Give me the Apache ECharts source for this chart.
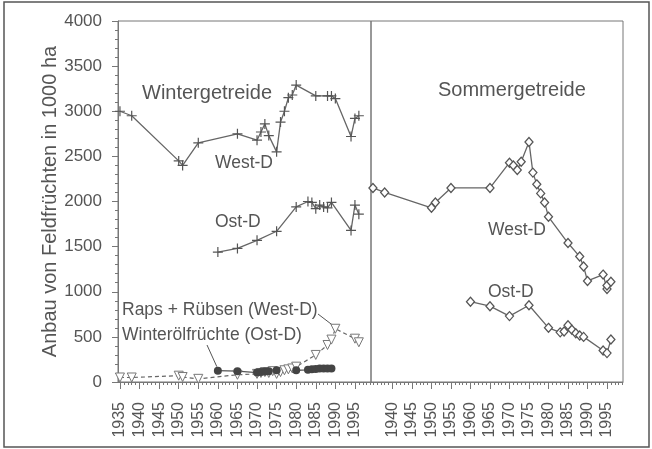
<!DOCTYPE html>
<html>
<head>
<meta charset="utf-8">
<script src="https://cdn.jsdelivr.net/npm/echarts@6/dist/echarts.min.js"></script>
<style>
  html, body { margin: 0; padding: 0; background: #fff; }
  #main { width: 652px; height: 449px; }
</style>
</head>
<body>
<div id="main"></div>
<script>
// Wintergetreide West-D
var winterWestJahre = [1935, 1938, 1950, 1951, 1955, 1965, 1970, 1971, 1972, 1973, 1975, 1976, 1977, 1978, 1979, 1980, 1985, 1988, 1989, 1990, 1994, 1995, 1996];
var winterWestWerte = [3000, 2950, 2450, 2400, 2650, 2750, 2680, 2770, 2860, 2730, 2550, 2880, 3000, 3150, 3180, 3290, 3170, 3170, 3170, 3140, 2720, 2920, 2950];
// Wintergetreide Ost-D
var winterOstJahre = [1960, 1965, 1970, 1975, 1980, 1983, 1984, 1985, 1986, 1987, 1988, 1989, 1994, 1995, 1996];
var winterOstWerte = [1440, 1480, 1570, 1670, 1940, 2000, 1990, 1920, 1960, 1940, 1930, 1990, 1680, 1960, 1860];
// Raps + Rübsen (West-D)
var rapsJahre = [1935, 1938, 1950, 1951, 1955, 1965, 1970, 1971, 1972, 1973, 1974, 1975, 1976, 1977, 1978, 1979, 1980, 1985, 1988, 1989, 1990, 1995, 1996];
var rapsWerte = [50, 50, 70, 55, 35, 80, 90, 100, 110, 100, 120, 90, 110, 130, 140, 150, 170, 300, 410, 470, 590, 480, 440];
// Winterölfrüchte (Ost-D)
var oelJahre = [1960, 1965, 1970, 1971, 1972, 1973, 1975, 1980, 1983, 1984, 1985, 1986, 1987, 1988, 1989];
var oelWerte = [125, 120, 105, 110, 115, 120, 130, 130, 135, 140, 145, 150, 150, 150, 150];
// Sommergetreide West-D
var sommerWestJahre = [1935, 1938, 1950, 1951, 1955, 1965, 1970, 1971, 1972, 1973, 1975, 1976, 1977, 1978, 1979, 1980, 1985, 1988, 1989, 1990, 1994, 1995, 1995, 1996];
var sommerWestWerte = [2150, 2100, 1930, 1990, 2150, 2150, 2430, 2400, 2350, 2440, 2660, 2320, 2190, 2090, 1990, 1830, 1540, 1390, 1280, 1120, 1190, 1030, 1070, 1110];
// Sommergetreide Ost-D
var sommerOstJahre = [1960, 1965, 1970, 1975, 1980, 1983, 1984, 1985, 1986, 1987, 1988, 1989, 1994, 1995, 1996];
var sommerOstWerte = [890, 840, 730, 850, 600, 550, 560, 630, 580, 540, 515, 500, 350, 320, 470];

// Achsenbeschriftung
var jahreLinks = [1935, 1940, 1945, 1950, 1955, 1960, 1965, 1970, 1975, 1980, 1985, 1990, 1995];
var jahreRechts = [1940, 1945, 1950, 1955, 1960, 1965, 1970, 1975, 1980, 1985, 1990, 1995];
var jahreKlein = [];
for (var j = 1935; j <= 1999; j++) jahreKlein.push(j);

function paare(jahre, werte) {
    return jahre.map(function (x, i) { return [x, werte[i]]; });
}
function ohneKomma(v) { return String(v); }

var grau = '#666';
var text = '#555';
var schrift = '"Liberation Sans", Arial, sans-serif';
var kreuz = 'path://M0,4.4H10V5.6H0ZM4.4,0H5.6V10H4.4Z';

function hauptX(grid, werte) {
    return {
        type: 'value', gridIndex: grid, min: 1934.5, max: 1999.1,
        axisLine: { show: true, lineStyle: { color: '#777' } },
        axisTick: { show: true, length: 7, customValues: werte, lineStyle: { color: '#777' } },
        axisLabel: { customValues: werte, rotate: 90, margin: 20, color: text, fontSize: 16, fontFamily: schrift, formatter: ohneKomma },
        splitLine: { show: false }
    };
}
function kleinX(grid) {
    return {
        type: 'value', gridIndex: grid, min: 1934.5, max: 1999.1, position: 'bottom',
        axisLine: { show: false },
        axisTick: { show: true, length: 3, customValues: jahreKlein, lineStyle: { color: '#777' } },
        axisLabel: { show: false },
        splitLine: { show: false }
    };
}

var chart = echarts.init(document.getElementById('main'));
var option = {
    animation: false,
    backgroundColor: '#fff',
    grid: [
        { left: 118, top: 21, width: 253, height: 361, show: true, borderColor: '#777', borderWidth: 1, outerBoundsMode: 'none' },
        { left: 371, top: 21, width: 252, height: 361, show: true, borderColor: '#777', borderWidth: 1, outerBoundsMode: 'none' }
    ],
    xAxis: [hauptX(0, jahreLinks), kleinX(0), hauptX(1, jahreRechts), kleinX(1)],
    yAxis: [
        {
            type: 'value', gridIndex: 0, min: 0, max: 4000, interval: 500,
            name: 'Anbau von Feldfrüchten in 1000 ha', nameLocation: 'middle', nameGap: 58,
            nameTextStyle: { color: text, fontSize: 20, fontFamily: schrift },
            axisLine: { show: true, lineStyle: { color: '#777' } },
            axisTick: { show: true, length: 6, lineStyle: { color: '#777' } },
            minorTick: { show: true, splitNumber: 5, length: 3, lineStyle: { color: '#777' } },
            axisLabel: { margin: 16, color: text, fontSize: 17, fontFamily: schrift, formatter: ohneKomma },
            splitLine: { show: false }
        },
        {
            type: 'value', gridIndex: 1, min: 0, max: 4000, interval: 500,
            axisLine: { show: false }, axisTick: { show: false },
            axisLabel: { show: false }, splitLine: { show: false }
        }
    ],
    series: [
        {
            type: 'line', xAxisIndex: 0, yAxisIndex: 0, data: paare(winterWestJahre, winterWestWerte),
            symbol: kreuz, symbolSize: 10, lineStyle: { color: grau, width: 1.3 },
            itemStyle: { color: '#555' }
        },
        {
            type: 'line', xAxisIndex: 0, yAxisIndex: 0, data: paare(winterOstJahre, winterOstWerte),
            symbol: kreuz, symbolSize: 10, lineStyle: { color: grau, width: 1.3 },
            itemStyle: { color: '#555' }
        },
        {
            type: 'line', xAxisIndex: 0, yAxisIndex: 0, data: paare(rapsJahre, rapsWerte),
            symbol: 'triangle', symbolRotate: 180, symbolSize: 9,
            lineStyle: { color: grau, width: 1.2, type: [4, 3] },
            itemStyle: { color: '#fff', borderColor: '#777', borderWidth: 1 }
        },
        {
            type: 'line', xAxisIndex: 0, yAxisIndex: 0, data: paare(oelJahre, oelWerte),
            symbol: 'circle', symbolSize: 8, lineStyle: { color: '#555', width: 1.3 },
            itemStyle: { color: '#444' }, z: 3
        },
        {
            type: 'line', xAxisIndex: 2, yAxisIndex: 1, data: paare(sommerWestJahre, sommerWestWerte),
            symbol: 'diamond', symbolSize: [8, 9], lineStyle: { color: grau, width: 1.3 },
            itemStyle: { color: '#fff', borderColor: '#555', borderWidth: 1.3 }
        },
        {
            type: 'line', xAxisIndex: 2, yAxisIndex: 1, data: paare(sommerOstJahre, sommerOstWerte),
            symbol: 'diamond', symbolSize: [8, 9], lineStyle: { color: grau, width: 1.3 },
            itemStyle: { color: '#fff', borderColor: '#555', borderWidth: 1.3 }
        }
    ]
};
chart.setOption(option);

// Beschriftungen und Hinweislinien
function t(x, y, s, size) {
    return { type: 'text', x: x, y: y, style: { text: s, fill: text, font: size + 'px ' + schrift, textVerticalAlign: 'middle' } };
}
var pRaps = chart.convertToPixel({ gridIndex: 0 }, [1990, 590]);
var pOel = chart.convertToPixel({ gridIndex: 0 }, [1960, 125]);
chart.setOption({
    graphic: [
        { type: 'rect', shape: { x: 4, y: 2, width: 645, height: 445 }, style: { fill: 'none', stroke: '#555', lineWidth: 1.5 }, silent: true },
        t(142, 93, 'Wintergetreide', 20),
        t(215, 163, 'West-D', 17.5),
        t(215, 222, 'Ost-D', 17.5),
        t(122, 310, 'Raps + Rübsen (West-D)', 17.5),
        t(122, 335, 'Winterölfrüchte (Ost-D)', 17.5),
        t(438, 90, 'Sommergetreide', 20),
        t(488, 230, 'West-D', 17.5),
        t(488, 292, 'Ost-D', 17.5),
        { type: 'line', shape: { x1: 318, y1: 314, x2: pRaps[0] - 2, y2: pRaps[1] - 3 }, style: { stroke: '#555', lineWidth: 1 } },
        { type: 'line', shape: { x1: 207, y1: 345, x2: pOel[0] - 1, y2: pOel[1] - 4 }, style: { stroke: '#555', lineWidth: 1 } }
    ]
});
</script>
</body>
</html>
